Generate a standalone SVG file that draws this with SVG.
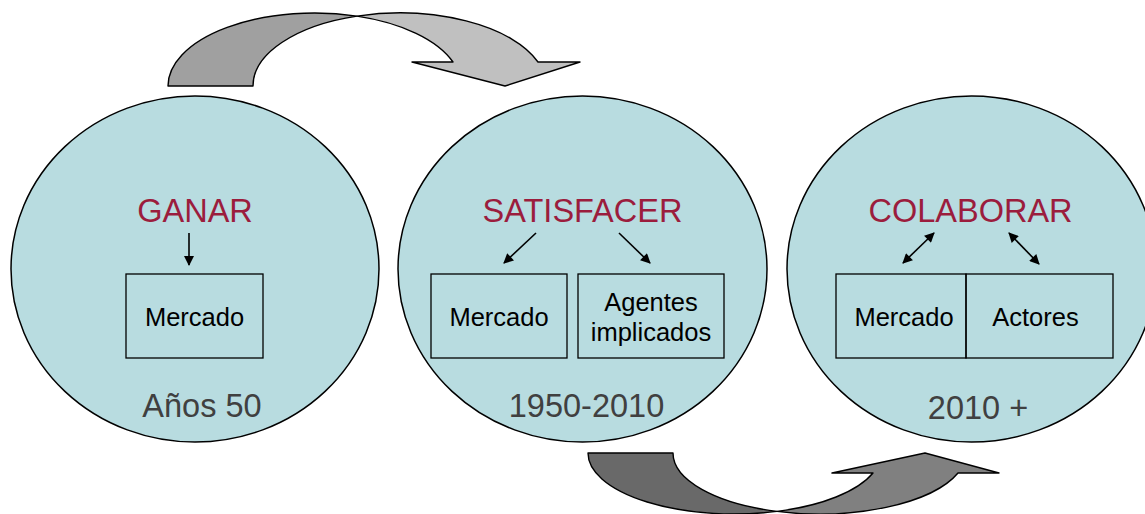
<svg xmlns="http://www.w3.org/2000/svg" width="1145" height="514" viewBox="0 0 1145 514">
  <style>
    .circle { fill: #B8DCE0; stroke: #000; stroke-width: 1.5; }
    .box { fill: none; stroke: #000; stroke-width: 1.3; }
    .verb { font-family: "Liberation Sans", Arial, sans-serif; font-size: 32.5px; fill: #9B1D3D; text-anchor: middle; }
    .label { font-family: "Liberation Sans", Arial, sans-serif; font-size: 25.5px; fill: #000; text-anchor: middle; }
    .era { font-family: "Liberation Sans", Arial, sans-serif; font-size: 32.5px; fill: #404040; text-anchor: middle; }
    .link { stroke: #000; stroke-width: 1.6; fill: none; }
    .block { stroke: #000; stroke-width: 1.4; stroke-linejoin: round; }
  </style>
  <defs>
    <marker id="head" viewBox="0 0 10 10" refX="9" refY="5" markerWidth="11" markerHeight="10" markerUnits="userSpaceOnUse" orient="auto-start-reverse">
      <path d="M0,0 L10,5 L0,10 Z" fill="#000"/>
    </marker>
  </defs>

  <!-- Period 1 -->
  <g id="node-ganar">
    <ellipse class="circle" cx="195" cy="269" rx="184" ry="173"/>
    <text class="verb" x="195" y="222">GANAR</text>
    <g id="box-ganar-mercado">
      <rect class="box" x="126" y="274" width="137" height="84"/>
      <text class="label" x="194.5" y="326">Mercado</text>
    </g>
    <text class="era" x="202" y="417">Años 50</text>
  </g>

  <!-- Period 2 -->
  <g id="node-satisfacer">
    <ellipse class="circle" cx="582.5" cy="269" rx="184.5" ry="173"/>
    <text class="verb" x="582.5" y="222">SATISFACER</text>
    <g id="box-satisfacer-mercado">
      <rect class="box" x="431" y="274" width="136" height="84"/>
      <text class="label" x="499" y="326">Mercado</text>
    </g>
    <g id="box-satisfacer-agentes">
      <rect class="box" x="578" y="274" width="146" height="84"/>
      <text class="label" x="651" y="311">Agentes</text>
      <text class="label" x="651" y="341">implicados</text>
    </g>
    <text class="era" x="586.5" y="417">1950-2010</text>
  </g>

  <!-- Period 3 -->
  <g id="node-colaborar">
    <ellipse class="circle" cx="971.5" cy="269" rx="184.5" ry="173"/>
    <text class="verb" x="970.5" y="222">COLABORAR</text>
    <g id="box-colaborar-mercado">
      <rect class="box" x="836" y="274" width="130" height="84"/>
      <text class="label" x="904" y="326">Mercado</text>
    </g>
    <g id="box-colaborar-actores">
      <rect class="box" x="966" y="274" width="147" height="84"/>
      <text class="label" x="1035.5" y="326">Actores</text>
    </g>
    <text class="era" x="978" y="419">2010 +</text>
  </g>

  <g id="connectors">
    <!-- inner arrows -->
    <line class="link" x1="189" y1="233" x2="189" y2="265" marker-end="url(#head)"/>
    <line class="link" x1="536" y1="233" x2="504" y2="263" marker-end="url(#head)"/>
    <line class="link" x1="619" y1="233" x2="650" y2="263" marker-end="url(#head)"/>
    <line class="link" x1="903" y1="263" x2="934" y2="233" marker-start="url(#head)" marker-end="url(#head)"/>
    <line class="link" x1="1009" y1="233" x2="1039" y2="264" marker-start="url(#head)" marker-end="url(#head)"/>

    <!-- curved block arrow, top -->
    <g id="arrow-top">
      <path class="block" fill="#A0A0A0" d="M168,86 A146.6,73 0 0 1 357,16.1 A146.6,73 0 0 0 253,86 Z"/>
      <path class="block" fill="#C0C0C0" d="M357,16.1 A146.6,73 0 0 1 538,62 L580,62 L505,86 L412,62 L453,62 A146.6,73 0 0 0 357,16.1 Z"/>
    </g>

    <!-- curved block arrow, bottom -->
    <g id="arrow-bottom">
      <path class="block" fill="#696969" d="M588,453 A146.5,61 0 0 0 777,511.4 A146.5,61 0 0 1 673,453 Z"/>
      <path class="block" fill="#808080" d="M777,511.4 A146.5,61 0 0 0 958,473 L999,473 L925,453 L832,473 L873,473 A146.5,61 0 0 1 777,511.4 Z"/>
    </g>
  </g>
</svg>
